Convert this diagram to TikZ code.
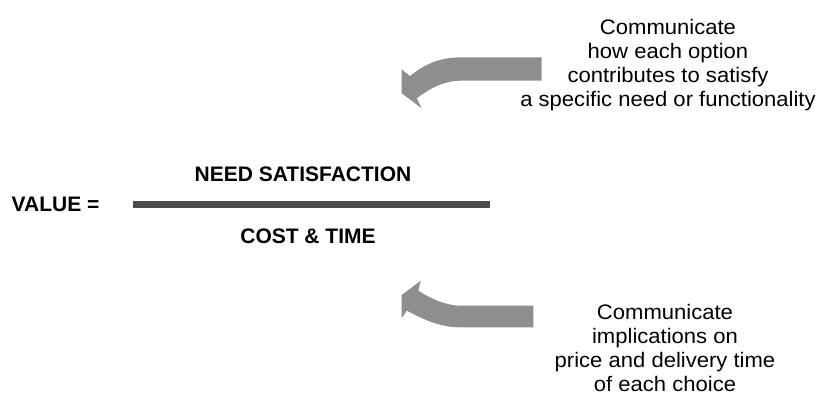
\documentclass[tikz,border=0pt]{standalone}
\usepackage{fontspec}
\setmainfont{Liberation Sans}
\newfontfamily\notefont[FakeStretch=1.05]{Liberation Sans}
\definecolor{arrowgray}{HTML}{8E8E8E}
\definecolor{bargray}{HTML}{4B4B4B}
\begin{document}
\begin{tikzpicture}[x=1pt,y=-1pt,
  note/.style={inner sep=0pt, align=center, font=\notefont\fontsize{21}{24.2}\selectfont},
  term/.style={inner sep=0pt, font=\fontsize{21}{24}\selectfont\bfseries},
  bent/.style={fill=arrowgray, draw=none}]
\useasboundingbox[fill=white] (0,0) rectangle (818,404);
% fraction bar
\fill[bargray] (133,201) rectangle (490,207.5);
\node[term, anchor=base west] (value) at (11.5,211.7) {VALUE =};
\node[term, anchor=base] (need) at (303,181.7) {NEED SATISFACTION};
\node[term, anchor=base] (cost) at (308,243.3) {COST \& TIME};
% notes (anchor base = baseline of the last line)
\node[note, anchor=base] (top) at (668,106.6) {Communicate\\how each option\\contributes to satisfy\\a specific need or functionality};
\node[note, anchor=base] (bot) at (665,391.6) {Communicate\\implications on\\price and delivery time\\of each choice};
% upper curved arrow
\path[bent] (541.7,57.3) -- (461.7,57.3)
  .. controls (440,57.3) and (425,64) .. (410,76)
  -- (401.7,69.3) -- (401.7,93.3) -- (421.7,108.3) -- (416.7,98.3)
  .. controls (430,88) and (445,80.7) .. (460,80.7)
  -- (541.7,80.7) -- cycle;
% lower curved arrow
\path[bent] (533.3,305.7) -- (461.7,305.7)
  .. controls (445,305.7) and (430,298) .. (418.3,290.7)
  -- (420.7,280.7) -- (401.7,295) -- (401.7,318.3) -- (406.7,310.7)
  .. controls (425,320) and (440,327.3) .. (460,327.3)
  -- (533.3,327.3) -- cycle;
\end{tikzpicture}
\end{document}
